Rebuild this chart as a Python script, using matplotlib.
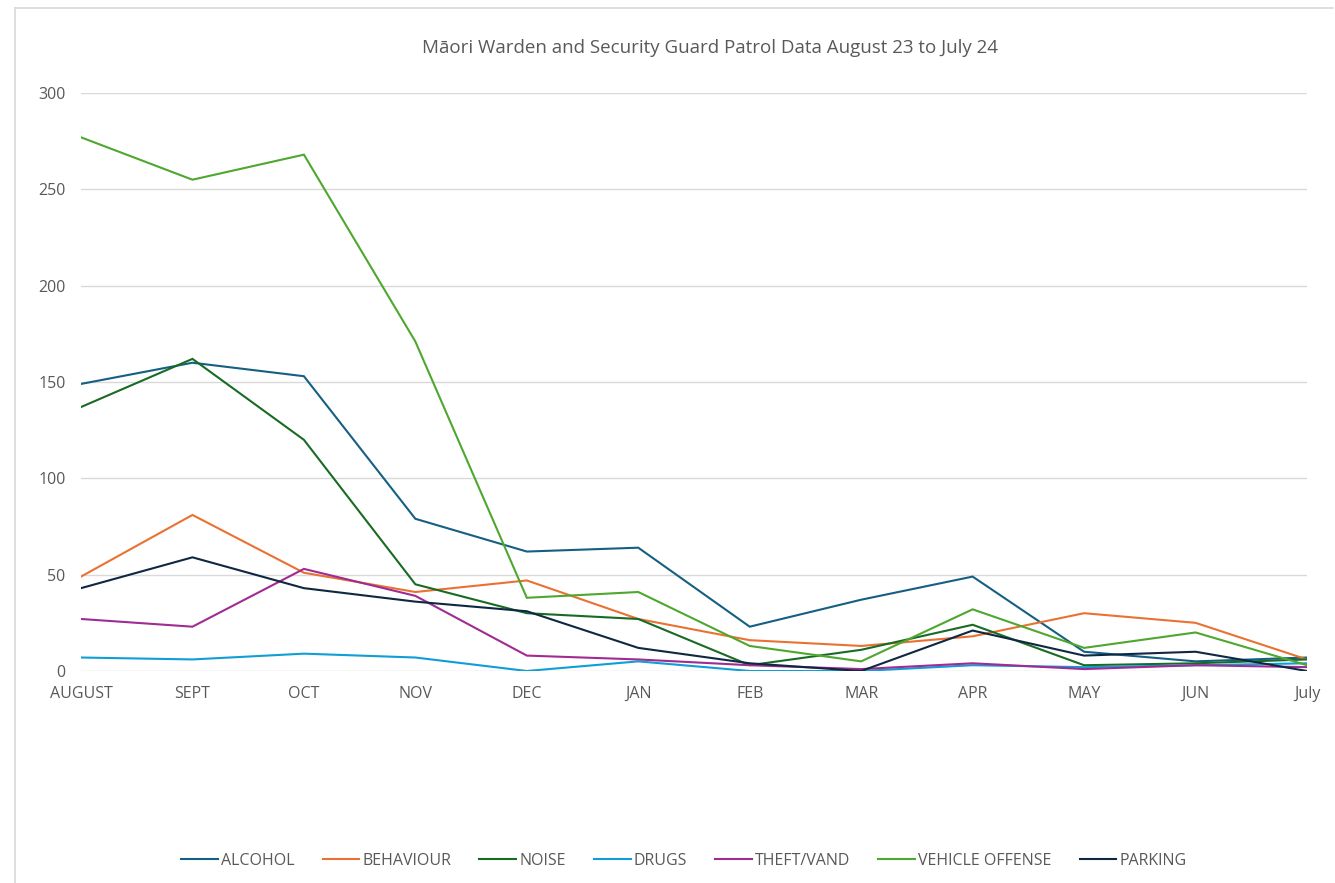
import matplotlib
matplotlib.use("Agg")
import matplotlib.pyplot as plt
from matplotlib.lines import Line2D

plt.rcParams['font.family'] = ['Open Sans', 'DejaVu Sans']

months = ["AUGUST", "SEPT", "OCT", "NOV", "DEC", "JAN", "FEB", "MAR", "APR", "MAY", "JUN", "July"]

alcohol = [149, 160, 153, 79, 62, 64, 23, 37, 49, 10, 5, 7]
behaviour = [49, 81, 51, 41, 47, 27, 16, 13, 18, 30, 25, 6]
noise = [137, 162, 120, 45, 30, 27, 3, 11, 24, 3, 4, 6]
drugs = [7, 6, 9, 7, 0, 5, 0, 0, 3, 2, 3, 4]
theft_vand = [27, 23, 53, 39, 8, 6, 3, 1, 4, 1, 3, 2]
vehicle_offense = [277, 255, 268, 171, 38, 41, 13, 5, 32, 12, 20, 3]
parking = [43, 59, 43, 36, 31, 12, 4, 0, 21, 8, 10, 0]

series = [
    ("ALCOHOL", alcohol, "#156082"),
    ("BEHAVIOUR", behaviour, "#E97132"),
    ("NOISE", noise, "#196B24"),
    ("DRUGS", drugs, "#0F9ED5"),
    ("THEFT/VAND", theft_vand, "#A02B93"),
    ("VEHICLE OFFENSE", vehicle_offense, "#4EA72E"),
    ("PARKING", parking, "#0E2841"),
]

W, H = 1335, 883
fig = plt.figure(figsize=(W / 100, H / 100), dpi=100)
ax = fig.add_axes([81 / W, 1 - 671 / H, (1307 - 81) / W, (671 - 93) / H])

x = list(range(len(months)))
for name, vals, col in series:
    ax.plot(x, vals, color=col, lw=1.5, label=name, solid_joinstyle="miter")

ax.set_xlim(0, len(months) - 1)
ax.set_ylim(0, 300)
ax.set_yticks(range(0, 301, 50))
ax.set_xticks(x)
ax.set_xticklabels(months)
ax.grid(axis="y", color="#D9D9D9", lw=1.0)
ax.set_axisbelow(True)
for s in ax.spines.values():
    s.set_visible(False)
ax.tick_params(axis="both", length=0, labelsize=11.5, colors="#595959")
ax.tick_params(axis="x", pad=11)
ax.tick_params(axis="y", pad=11)

fig.text(710 / W, 1 - 48 / H, "Māori Warden and Security Guard Patrol Data August 23 to July 24",
         ha="center", va="center", fontsize=13.5, color="#595959")

handles, labels = ax.get_legend_handles_labels()
fig.legend(handles, labels, loc="center", bbox_to_anchor=(684 / W, 1 - 861 / H), ncol=7,
           frameon=False, fontsize=11.5, labelcolor="#595959", handlelength=2.3,
           handletextpad=0.2, columnspacing=1.75)

# chart-area border (left and top edges)
fig.add_artist(Line2D([15 / W, 15 / W], [0, 1 - 8 / H], transform=fig.transFigure,
                      color="#D9D9D9", lw=1.2))
fig.add_artist(Line2D([15 / W, 1333 / W], [1 - 8 / H, 1 - 8 / H], transform=fig.transFigure,
                      color="#D9D9D9", lw=1.2))

fig.savefig("out.png", dpi=100, facecolor="white")
